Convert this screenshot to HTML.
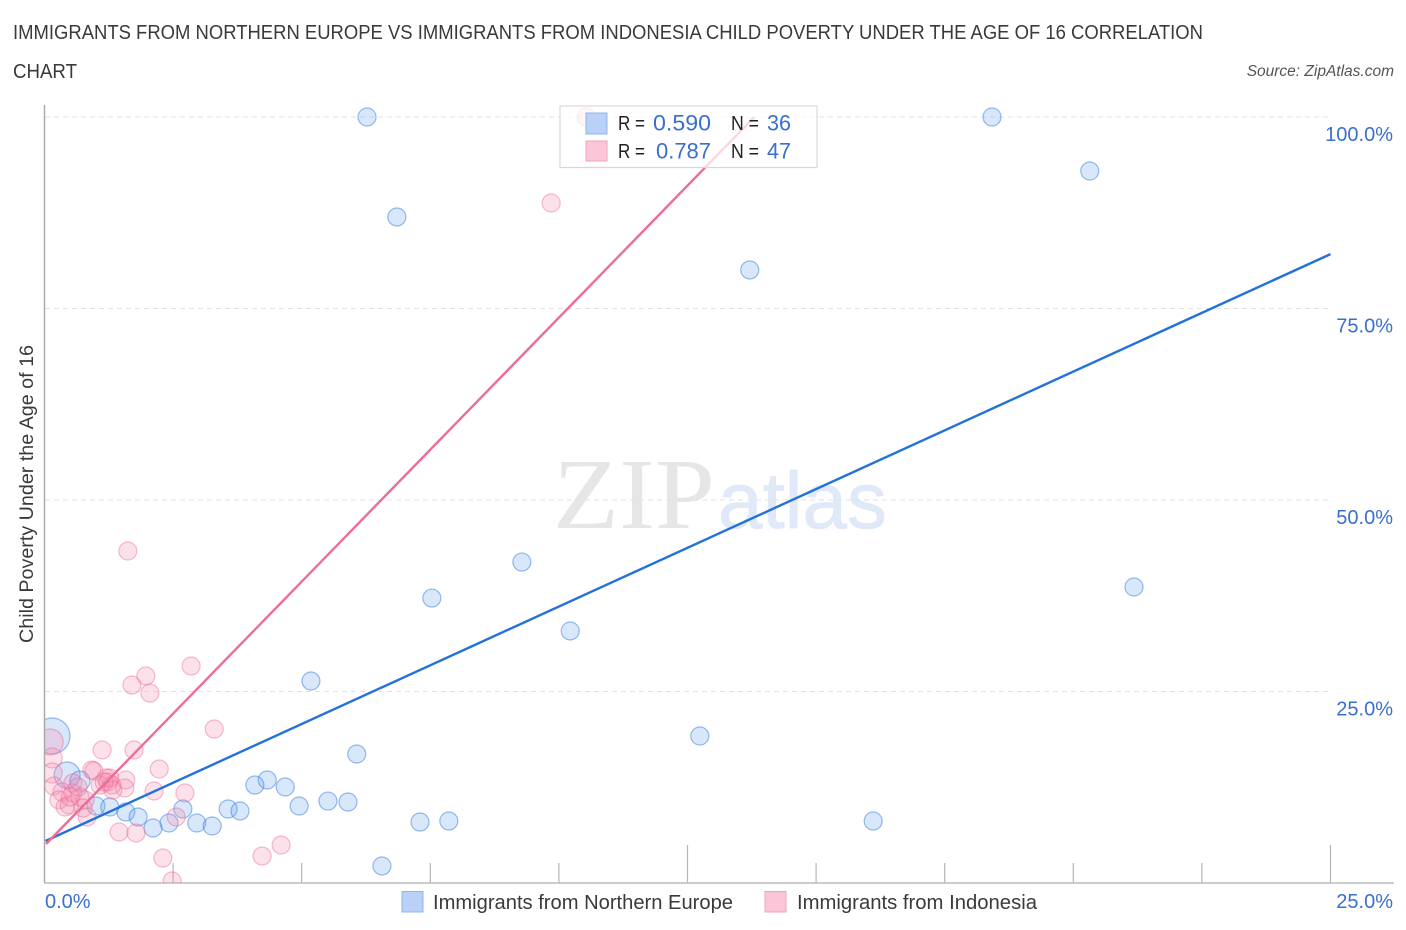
<!DOCTYPE html>
<html lang="en">
<head>
<meta charset="utf-8">
<title>Child Poverty Correlation Chart</title>
<style>
html,body{margin:0;padding:0;background:#fff;}
svg{display:block;font-family:"Liberation Sans",sans-serif;}
</style>
</head>
<body>
<svg id="chart" xmlns="http://www.w3.org/2000/svg" width="1406" height="930" viewBox="0 0 1406 930">
  <rect x="0" y="0" width="1406" height="930" fill="#fff"/>
  <text x="13" y="39" font-size="20" fill="#3a3a3a" textLength="1190" lengthAdjust="spacingAndGlyphs">IMMIGRANTS FROM NORTHERN EUROPE VS IMMIGRANTS FROM INDONESIA CHILD POVERTY UNDER THE AGE OF 16 CORRELATION</text>
  <text x="13" y="78" font-size="20" fill="#3a3a3a" textLength="64" lengthAdjust="spacingAndGlyphs">CHART</text>
  <text x="1394" y="76" font-size="15.5" font-style="italic" fill="#555" text-anchor="end">Source: ZipAtlas.com</text>

  <g>
    <text x="553" y="528" font-family="'Liberation Serif',serif" font-size="101" fill="#e6e6e6" textLength="162" lengthAdjust="spacingAndGlyphs">ZIP</text>
    <text x="718" y="528" font-size="80" fill="#dfe9f8" stroke="#dfe9f8" stroke-width="0.8" textLength="169" lengthAdjust="spacingAndGlyphs">atlas</text>
  </g>

  <g id="grid"></g>
  <g id="ticks"></g>
  <line x1="44.5" y1="105" x2="44.5" y2="883" stroke="#aaa" stroke-width="1.5"/>
  <line x1="44" y1="883" x2="1394" y2="883" stroke="#bbb" stroke-width="1.5"/>
  <g id="yLabels"></g>
  <g id="xLabels"></g>
  <text transform="translate(33,494) rotate(-90)" font-size="19" fill="#3a3a3a" text-anchor="middle" textLength="298" lengthAdjust="spacingAndGlyphs">Child Poverty Under the Age of 16</text>

  <defs><clipPath id="plotClip"><rect x="45" y="100" width="1350" height="783"/></clipPath></defs>
  <g id="marks" clip-path="url(#plotClip)"></g>

  <g>
    <rect x="560" y="106" width="257" height="61.5" fill="#fff" fill-opacity="0.72" stroke="#d8d8d8" stroke-width="1.2"/>
    <rect x="586" y="113" width="21" height="21" fill="#b9d1f6" stroke="#8fb4ec"/>
    <rect x="586" y="141" width="21" height="20" fill="#fcc5d8" stroke="#f0a3bf"/>
    <g font-size="20" fill="#222">
      <text x="618" y="130" textLength="27" lengthAdjust="spacingAndGlyphs">R =</text>
      <text x="618" y="158" textLength="27" lengthAdjust="spacingAndGlyphs">R =</text>
      <text x="731" y="130" textLength="28" lengthAdjust="spacingAndGlyphs">N =</text>
      <text x="731" y="158" textLength="28" lengthAdjust="spacingAndGlyphs">N =</text>
    </g>
    <g font-size="22" fill="#3a6fce">
      <text x="653" y="130.5" textLength="58" lengthAdjust="spacingAndGlyphs">0.590</text>
      <text x="656" y="158.5" textLength="55" lengthAdjust="spacingAndGlyphs">0.787</text>
      <text x="767" y="130.5" textLength="24" lengthAdjust="spacingAndGlyphs">36</text>
      <text x="767" y="158.5" textLength="24" lengthAdjust="spacingAndGlyphs">47</text>
    </g>
  </g>

  <g>
    <rect x="402" y="891.5" width="21" height="20.5" fill="#b9d1f6" stroke="#8fb4ec"/>
    <text x="433" y="909" font-size="20" fill="#3a3a3a" textLength="300" lengthAdjust="spacingAndGlyphs">Immigrants from Northern Europe</text>
    <rect x="765" y="891.5" width="21" height="20.5" fill="#fcc5d8" stroke="#f0a3bf"/>
    <text x="797" y="909" font-size="20" fill="#3a3a3a" textLength="240" lengthAdjust="spacingAndGlyphs">Immigrants from Indonesia</text>
  </g>
</svg>
<script>
const yGridValues = [25, 50, 75, 100];
const yTickLabels = ["25.0%", "50.0%", "75.0%", "100.0%"];
const xTickValues = [2.5, 5, 7.5, 10, 12.5, 15, 17.5, 20, 22.5, 25];
const xTickMajor = [false, false, false, false, true, false, false, false, false, true];
const xEndLabels = ["0.0%", "25.0%"];

const blueX = [6.27,18.42,20.32,6.85,13.71,9.28,21.18,7.53,10.22,5.18,12.74,0.146,6.07,0.44,0.69,4.33,4.09,4.68,5.51,5.90,4.95,2.69,3.57,3.80,1.00,1.27,1.58,1.82,2.96,3.26,2.42,2.11,7.30,7.86,16.11,6.56];
const blueY = [100,100,92.95,86.95,80.03,41.9,38.64,37.2,32.9,26.37,19.19,19.19,16.84,14.1,13.32,13.45,12.79,12.53,10.7,10.57,10.05,9.66,9.66,9.4,10.05,9.92,9.27,8.62,7.83,7.44,7.83,7.18,7.96,8.09,8.09,2.22];
const blueSize = [9,9,9,9,9,9,9,9,9,9,9,18,9,13,10,9,9,9,9,9,9,9,9,9,9,9,9,9,9,9,9,9,9,9,9,9];

const pinkX = [10.53,9.85,1.62,2.85,1.97,1.70,2.05,3.30,0.11,1.12,1.74,0.15,2.23,0.15,0.92,0.96,1.20,1.58,1.08,1.23,1.31,1.56,0.18,0.34,0.28,0.40,0.48,0.55,0.55,0.79,0.69,0.83,0.75,2.13,2.73,2.56,1.45,1.78,2.30,2.48,4.23,4.60,1.27,1.16,1.33,0.50,0.65];
const pinkY = [100,88.77,43.34,28.33,27.02,25.85,24.8,20.1,18.41,17.36,17.36,16.32,14.88,14.36,14.75,14.62,13.71,13.45,12.79,13.19,12.79,12.4,12.66,11.88,10.84,9.92,10.18,11.75,13.05,10.84,11.23,8.62,9.79,12.01,11.75,8.62,6.66,6.53,3.26,0.26,3.52,4.96,13.71,13.19,12.14,11.23,12.53];
const pinkSize = [9,9,9,9,9,9,9,9,13,9,9,10,9,10,9,9,9,9,9,9,9,9,9,9,9,9,9,9,9,9,9,9,9,9,9,9,9,9,9,9,9,9,9,9,9,9,9];

const blueTrendX = [0.02, 25];
const blueTrendY = [5.48, 82.1];
const pinkTrendX = [0.03, 13.8];
const pinkTrendY = [5.09, 100];

const NS = "http://www.w3.org/2000/svg";
function xScale(v) { return 44.5 + v * 51.44; }
function yScale(v) { return 883 - v * 7.66; }
function make(tag, attrs, parent) {
  const el = document.createElementNS(NS, tag);
  Object.keys(attrs).forEach(function (k) { el.setAttribute(k, attrs[k]); });
  parent.appendChild(el);
  return el;
}

const grid = document.getElementById("grid");
const yLabels = document.getElementById("yLabels");
yGridValues.forEach(function (v, i) {
  const line = make("line", {x1: 45, x2: 1330, y1: yScale(v), y2: yScale(v), stroke: "#e2e2e2", "stroke-width": 1, "stroke-dasharray": "5 4"}, grid);
  
  
  const label = make("text", {x: 1393, y: yScale(v) + 24, "font-size": 20, fill: "#3a6fce", "text-anchor": "end"}, yLabels);
  
  
  label.textContent = yTickLabels[i];
});

const ticks = document.getElementById("ticks");
xTickValues.forEach(function (v, i) {
  const tick = make("line", {x1: xScale(v), x2: xScale(v), y1: xTickMajor[i] ? 845 : 863, y2: 883, stroke: "#b5b5b5", "stroke-width": 1.2}, ticks);
  
  
});

const xLabels = document.getElementById("xLabels");
const xl0 = make("text", {x: 45, y: 908, "font-size": 20, fill: "#3a6fce"}, xLabels);


xl0.textContent = xEndLabels[0];
const xl1 = make("text", {x: 1393, y: 908, "font-size": 20, fill: "#3a6fce", "text-anchor": "end"}, xLabels);


xl1.textContent = xEndLabels[1];

const marks = document.getElementById("marks");
blueX.forEach(function (v, i) {
  const dot = make("circle", {cx: xScale(v), cy: yScale(blueY[i]), r: blueSize[i], fill: "#6ea3ee", "fill-opacity": 0.26, stroke: "#2f7bdc", "stroke-opacity": 0.5, "stroke-width": 1.2}, marks);
  
  
});
pinkX.forEach(function (v, i) {
  const dot = make("circle", {cx: xScale(v), cy: yScale(pinkY[i]), r: pinkSize[i], fill: "#f48fb1", "fill-opacity": 0.27, stroke: "#e8628f", "stroke-opacity": 0.42, "stroke-width": 1.2}, marks);
  
  
});
const blueTrend = make("line", {x1: xScale(blueTrendX[0]), y1: yScale(blueTrendY[0]), x2: xScale(blueTrendX[1]), y2: yScale(blueTrendY[1]), stroke: "#2272d9", "stroke-width": 2.4}, marks);


const pinkTrend = make("line", {x1: xScale(pinkTrendX[0]), y1: yScale(pinkTrendY[0]), x2: xScale(pinkTrendX[1]), y2: yScale(pinkTrendY[1]), stroke: "#ee6c98", "stroke-width": 2.4}, marks);


</script>
</body>
</html>
